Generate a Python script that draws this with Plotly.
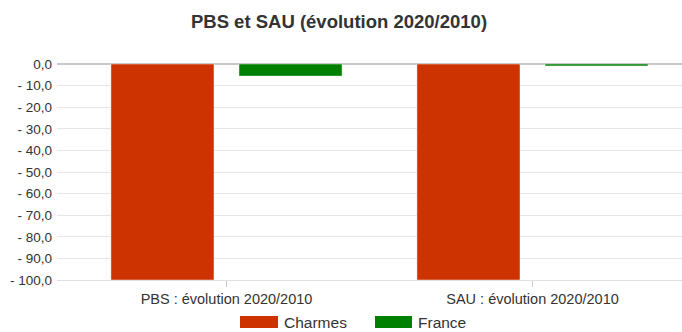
import plotly.graph_objects as go

# Data
categories = ["PBS : évolution 2020/2010", "SAU : évolution 2020/2010"]
series_names = ["Charmes", "France"]
charmes = [-100.0, -100.0]
france = [-5.6, -0.9]
series_colors = ["#cc3300", "#008000"]
y_ticks = [0, -10, -20, -30, -40, -50, -60, -70, -80, -90, -100]

W, H = 682, 332
M_L, M_R, M_T, M_B = 57, 0, 64, 52
FONT = "Liberation Sans, Arial, sans-serif"
TEXT_COLOR = "#333333"


def fmt(v):
    s = f"{abs(v):.1f}".replace(".", ",")
    return s if v == 0 else "- " + s


x_idx = list(range(len(categories)))

fig = go.Figure()
for name, vals, col in zip(series_names, [charmes, france], series_colors):
    fig.add_trace(go.Bar(
        x=x_idx, y=vals, name=name,
        marker=dict(color=col, line=dict(color="rgba(255,255,255,0.45)", width=1)),
        showlegend=False,
    ))

# Manual legend with wide swatches
pw = W - M_L - M_R
ph = H - M_T - M_B


def px_x(px):
    return (px - M_L) / pw


def px_y(py):
    return (H - M_B - py) / ph


legend_items = [(240, 278), (375, 412)]
for (x0, x1), name, col in zip(legend_items, series_names, series_colors):
    fig.add_shape(type="rect", xref="paper", yref="paper",
                  x0=px_x(x0), x1=px_x(x1), y0=px_y(328), y1=px_y(316),
                  fillcolor=col, line=dict(width=0))
    fig.add_annotation(xref="paper", yref="paper", x=px_x(x1 + 4), y=px_y(322),
                       text=name, showarrow=False, xanchor="left", yanchor="middle",
                       font=dict(family=FONT, size=15.5, color=TEXT_COLOR))

fig.update_layout(
    width=W, height=H,
    margin=dict(l=M_L, r=M_R, t=M_T, b=M_B, pad=0),
    paper_bgcolor="white", plot_bgcolor="white",
    barmode="group", bargap=0.163, bargroupgap=0.195,
    title=dict(text="<b>PBS et SAU (évolution 2020/2010)</b>",
               x=339 / W, xref="container", xanchor="center", y=1 - 22 / H, yanchor="middle",
               font=dict(family=FONT, size=18.5, color=TEXT_COLOR)),
    font=dict(family=FONT, color=TEXT_COLOR),
    xaxis=dict(
        range=[(M_L - 226.5) / 306, (W - 226.5) / 306],
        tickvals=x_idx, ticktext=categories,
        ticks="outside", ticklen=6, tickcolor="#cccccc", tickwidth=1,
        showline=True, linecolor="#e0e0e0", linewidth=1,
        showgrid=False, zeroline=False,
        tickfont=dict(family=FONT, size=14.5, color=TEXT_COLOR),
        fixedrange=True,
    ),
    yaxis=dict(
        range=[-100, 0],
        tickvals=y_ticks, ticktext=[fmt(v) for v in y_ticks],
        showgrid=True, gridcolor="#e6e6e6", gridwidth=1,
        zeroline=True, zerolinecolor="#c8c8c8", zerolinewidth=2,
        ticks="", ticklabelstandoff=4,
        tickfont=dict(family=FONT, size=13.5, color=TEXT_COLOR),
        fixedrange=True,
    ),
)

fig.write_html("out.html")
